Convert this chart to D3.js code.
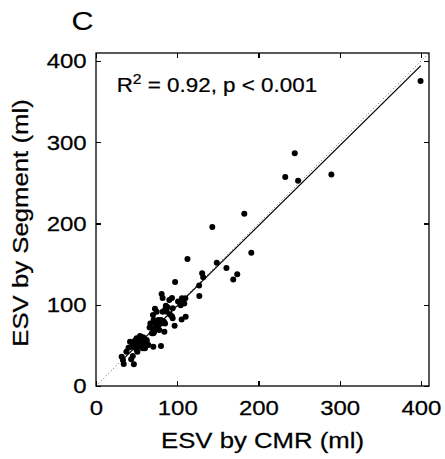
<!DOCTYPE html>
<html lang="en">
<head>
<meta charset="utf-8"/>
<title>ESV scatter</title>
<style>
    body { margin: 0; background: #fff; }
    text { font-family: "Liberation Sans", Arial, sans-serif; fill: #000; stroke: #000; stroke-width: 0.25; }
    .axis path { display: none; }
    .axis line { stroke: #000; stroke-width: 1.2; shape-rendering: crispEdges; }
</style>
</head>
<body>
<div id="graph"></div>
<script src="https://d3js.org/d3.v7.min.js"></script>
<script>
    // ESV by CMR (x) vs ESV by Segment (y), ml
    var cmr = [399.6, 244.7, 233, 248.8, 289.8, 182.6, 143.2, 191.2, 112.6, 148.7,
        160.6, 173.9, 169, 130.7, 132, 127, 127.2, 97.4,
        80.8, 82, 90.3, 93.5, 105.8, 110, 104.2, 108.7, 110.4, 105.4, 96.8, 72.6,
        74.7, 85.3, 87, 94.4, 94.4, 93.5, 83.7, 80, 70.1, 71, 66.9, 73, 77, 79.8,
        70.1, 75, 68.9, 71.8, 84.2, 80, 54.2, 50, 56.2, 60.3, 41.9, 46, 52.1, 58.3,
        62.4, 44, 48, 54.2, 64.5, 50, 57.4, 37.4, 31.6, 33.2, 34.1, 45.3, 43.3, 46.6,
        86, 82, 85, 78, 70.6, 62.4, 52.1, 70.6, 60.3, 51, 74.7, 76.7, 88, 91, 101,
        66, 58, 48, 40, 55];
    var segment = [375.4, 286.5, 257.2, 252.7, 260.5, 212.1, 195.7, 164.1, 156.3, 151.6,
        145.2, 137.6, 131.2, 138.9, 133.9, 123.7, 110.8, 128,
        113.2, 108.3, 105.8, 108.3, 107.9, 107.9, 99.3, 101.7, 85.3, 82, 74.3, 95.2,
        91.5, 94.4, 91.5, 95.6, 83.3, 86, 79.2, 81.2, 87.4, 81.2, 77.1, 77.1, 75, 77.1,
        70.9, 71.8, 64.8, 66.9, 66.9, 49.2, 61.5, 58.7, 58.7, 56.6, 54.6, 52.5, 52.5, 52.5,
        54.6, 48.4, 48.4, 49.2, 50.5, 44.3, 46.4, 42.3, 36.1, 32, 27.1, 36.9, 32.8, 26.7,
        98.9, 91.5, 77.1, 68.9, 64.8, 56.6, 56.6, 48.4, 46.4, 42.3, 71, 81.2, 97, 88, 104,
        72, 60, 56, 47, 55];
    var tickValues = [0, 100, 200, 300, 400];
    var fit = { slope: 0.986, intercept: 0.1, from: 31, to: 400 };
    var statsLabel = ["R", "2", " = 0.92, p < 0.001"];

    var data = cmr.map(function (v, i) { return { x: v, y: segment[i] }; });

    var margin = { top: 53, right: 16, bottom: 73, left: 96 },
        width = 445 - margin.left - margin.right,
        height = 459 - margin.top - margin.bottom;
    var sx = 1.17; // glyphs in the figure are wider than Arial

    var x = d3.scaleLinear().domain([0, 410]).range([0, width]);
    var y = d3.scaleLinear().domain([0, 410]).range([height, 0]);

    var svg = d3.select("#graph").append("svg")
        .attr("width", 445).attr("height", 459)
        .append("g")
        .attr("transform", "translate(" + margin.left + "," + margin.top + ")");

    // identity line
    svg.append("line")
        .attr("x1", x(0)).attr("y1", y(0))
        .attr("x2", x(410)).attr("y2", y(410))
        .style("stroke", "#666").style("stroke-width", 1)
        .style("stroke-dasharray", "1,2.5");

    // regression line
    svg.append("line")
        .attr("x1", x(fit.from)).attr("y1", y(fit.slope * fit.from + fit.intercept))
        .attr("x2", x(fit.to)).attr("y2", y(fit.slope * fit.to + fit.intercept))
        .style("stroke", "#000").style("stroke-width", 1.3);

    svg.selectAll(".dot")
        .data(data)
        .enter()
        .append("circle")
        .attr("class", "dot")
        .attr("r", 3)
        .attr("cx", function (d) { return x(d.x); })
        .attr("cy", function (d) { return y(d.y); })
        .style("fill", "#000");

    var xAxis = svg.append("g")
        .attr("class", "axis")
        .attr("transform", "translate(0," + height + ")")
        .call(d3.axisBottom(x).tickValues(tickValues).tickSizeInner(-5).tickSizeOuter(0));
    xAxis.selectAll("text")
        .attr("y", 29).attr("dy", 0)
        .attr("transform", "scale(" + sx + ",1)")
        .style("font-size", "20.5px");

    var yAxis = svg.append("g")
        .attr("class", "axis")
        .call(d3.axisLeft(y).tickValues(tickValues).tickSizeInner(-5).tickSizeOuter(0));
    yAxis.selectAll("text")
        .attr("x", -8).attr("dy", "0.33em")
        .attr("transform", "scale(" + sx + ",1)")
        .style("font-size", "20.5px");

    svg.append("g").attr("class", "axis")
        .call(d3.axisTop(x).tickValues(tickValues).tickSizeInner(-5).tickSizeOuter(0).tickFormat(""));
    svg.append("g").attr("class", "axis")
        .attr("transform", "translate(" + width + ",0)")
        .call(d3.axisRight(y).tickValues(tickValues).tickSizeInner(-5).tickSizeOuter(0).tickFormat(""));

    svg.append("rect")
        .attr("width", width).attr("height", height)
        .style("fill", "none").style("stroke", "#000").style("stroke-width", 1.3);

    // stats text
    var st = svg.append("text")
        .attr("transform", "translate(" + (116.7 - margin.left) + "," + (91.7 - margin.top) + ") scale(1.12,1)")
        .style("font-size", "20px");
    st.append("tspan").text(statsLabel[0]);
    st.append("tspan").attr("dy", -8).style("font-size", "14px").text(statsLabel[1]);
    st.append("tspan").attr("dy", 8).text(statsLabel[2]);

    // axis titles
    svg.append("text")
        .attr("transform", "translate(" + (width / 2) + "," + (448 - margin.top) + ") scale(" + sx + ",1)")
        .style("text-anchor", "middle")
        .style("font-size", "22px")
        .text("ESV by CMR (ml)");

    svg.append("text")
        .attr("transform", "translate(" + (27.7 - margin.left) + "," + (223 - margin.top) + ") rotate(-90) scale(" + sx + ",1)")
        .style("text-anchor", "middle")
        .style("font-size", "22px")
        .text("ESV by Segment (ml)");

    // panel letter
    svg.append("text")
        .attr("transform", "translate(" + (71.5 - margin.left) + "," + (30 - margin.top) + ") scale(" + sx + ",1)")
        .style("font-size", "26px")
        .style("stroke-width", 0.1)
        .text("C");
</script>
</body>
</html>
